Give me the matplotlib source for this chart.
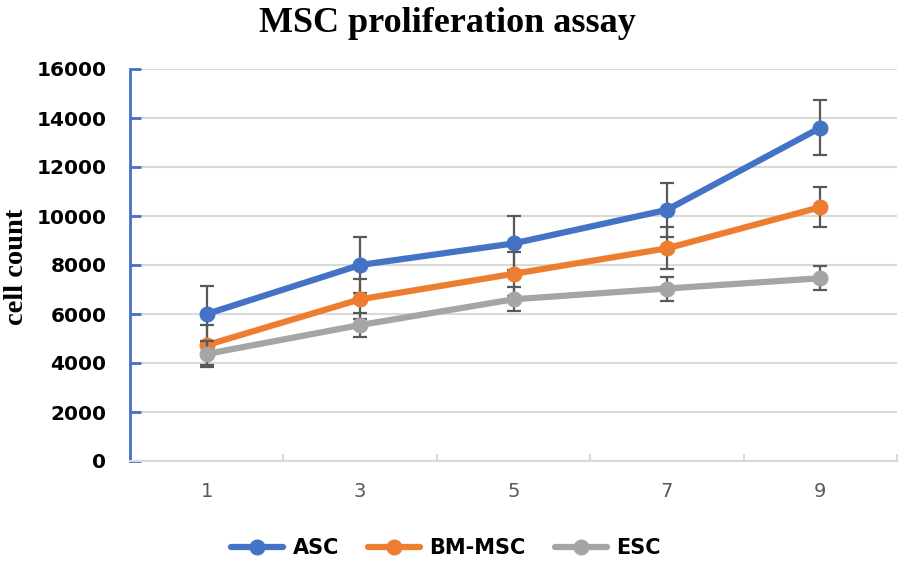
import matplotlib.pyplot as plt
import numpy as np

days = ['1', '3', '5', '7', '9']
asc = [6000, 8000, 8880, 10250, 13600]
asc_err = [1140, 1140, 1100, 1100, 1130]
bm_msc = [4730, 6600, 7640, 8680, 10360]
bm_msc_err = [820, 820, 900, 860, 820]
esc = [4370, 5550, 6600, 7040, 7460]
esc_err = [520, 490, 490, 490, 490]

series = [
    ('ASC', asc, asc_err, '#4472C4'),
    ('BM-MSC', bm_msc, bm_msc_err, '#ED7D31'),
    ('ESC', esc, esc_err, '#A5A5A5'),
]

fig = plt.figure(figsize=(8.98, 5.66), dpi=100)
ax = fig.add_axes([130 / 898, 105 / 566, 767 / 898, 392 / 566])

x = np.arange(len(days))
z = 3
for name, vals, err, color in series:
    ax.errorbar(x, vals, yerr=err, fmt='none', ecolor='#595959', elinewidth=1.6,
                capsize=4.8, capthick=1.6, zorder=z)
    ax.plot(x, vals, color=color, lw=4.5, marker='o', ms=10.5, label=name,
            solid_capstyle='round', zorder=z + 1)
    z += 2

ax.set_xlim(-0.5, len(days) - 0.5)
ax.set_ylim(0, 16000)
ax.set_yticks(np.arange(0, 16001, 2000))
ax.set_xticks(x)
ax.set_xticklabels(days)
ax.set_xticks(np.arange(-0.5, len(days), 0.5), minor=True)

ax.grid(axis='y', color='#D9D9D9', lw=1.5, zorder=0)
ax.set_axisbelow(True)

for s in ['top', 'right']:
    ax.spines[s].set_visible(False)
ax.spines['left'].set_color('#4472C4')
ax.spines['left'].set_linewidth(2)
ax.spines['bottom'].set_color('#D9D9D9')
ax.spines['bottom'].set_linewidth(1.5)

ax.tick_params(axis='y', direction='in', length=8, width=2, color='#4472C4',
               pad=17, labelsize=14.5)
for lab in ax.get_yticklabels():
    lab.set_fontweight('bold')
ax.tick_params(axis='x', which='major', length=0, pad=15, labelsize=14,
               labelcolor='#595959')
ax.tick_params(axis='x', which='minor', direction='in', length=5, width=1.5,
               color='#D9D9D9')

# y label and title placed in figure coords
fig.text(17 / 898, 1 - 267 / 566, 'cell count', rotation=90, ha='center',
         va='center', fontsize=20.5, fontweight='bold',
         fontfamily='Liberation Serif')
fig.text(447 / 898, 1 - 24 / 566, 'MSC proliferation assay', ha='center',
         va='center', fontsize=26, fontweight='bold',
         fontfamily='Liberation Serif')

leg = fig.legend(loc='center', bbox_to_anchor=(446 / 898, 1 - 548 / 566),
                 ncol=3, frameon=False, handlelength=2.5, columnspacing=1.4,
                 handletextpad=0.45, prop={'size': 15, 'weight': 'bold'})

fig.savefig('out.png', dpi=100)
